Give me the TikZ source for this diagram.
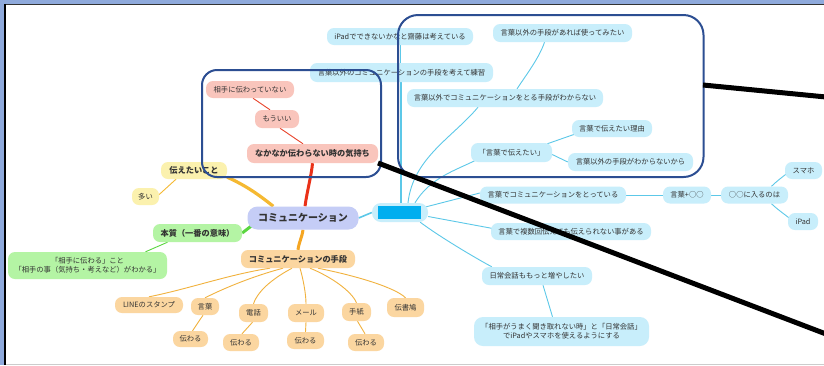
\documentclass[tikz,border=0pt]{standalone}
\usepackage{fontspec}
\setmainfont{Noto Sans CJK JP}
\usetikzlibrary{calc}
\pgfdeclarelayer{bg}
\pgfdeclarelayer{top}
\pgfsetlayers{bg,main,top}
\definecolor{bfill}{HTML}{C8EEFB}
\definecolor{bline}{HTML}{5CC8E8}
\definecolor{rfill}{HTML}{F9C5BC}
\definecolor{rline}{HTML}{E8442C}
\definecolor{rthick}{HTML}{EA3118}
\definecolor{yfill}{HTML}{FBF1AE}
\definecolor{yline}{HTML}{F5B932}
\definecolor{gfill}{HTML}{B4F4A4}
\definecolor{gline}{HTML}{5AD640}
\definecolor{ofill}{HTML}{FBD6A0}
\definecolor{oline}{HTML}{F1B23E}
\definecolor{othick}{HTML}{F5A623}
\definecolor{cfill}{HTML}{C5CDF6}
\definecolor{navy}{HTML}{2C4E92}
\definecolor{cyanb}{HTML}{00AEEF}
\definecolor{frameb}{HTML}{8FAADC}
\definecolor{txt}{HTML}{333333}
\tikzset{
  nd/.style={rounded corners=7pt, inner sep=0pt, text=txt, align=center,
    font=\fontsize{7.3}{9.2}\selectfont},
  hd/.style={nd, font=\fontsize{8.2}{10}\bfseries\selectfont},
  bnode/.style={nd, fill=bfill},
  rnode/.style={nd, fill=rfill},
  ynode/.style={nd, fill=yfill},
  gnode/.style={nd, fill=gfill},
  onode/.style={nd, fill=ofill},
  thin/.style={line width=0.9pt},
  bl/.style={thin, draw=bline},
  rl/.style={thin, draw=rline},
  yl/.style={thin, draw=yline},
  gl/.style={thin, draw=gline},
  ol/.style={thin, draw=oline},
  overbox/.style={draw=navy, line width=2pt},
  blk/.style={line width=5pt, draw=black},
}
\begin{document}
\begin{tikzpicture}[x=1pt,y=-1pt]
\useasboundingbox (0,0) rectangle (824,365);

% ---------- nodes ----------
\node[hd, fill=cfill, minimum width=111, minimum height=23, rounded corners=10pt,
      font=\fontsize{10}{12}\bfseries\selectfont] (c0) at (303,218) {コミュニケーション};
\node[bnode, minimum width=56, minimum height=19, rounded corners=9pt] (bn) at (400,212.5) {};
\fill[cyanb] ($(bn.north west)+(6,3)$) rectangle ($(bn.south east)+(-7,-3)$);

% red branch
\node[hd, fill=rfill, minimum width=131, minimum height=19] (r0) at (312.5,153.5) {なかなか伝わらない時の気持ち};
\node[rnode, minimum width=44, minimum height=18] (r1) at (277,119) {もういい};
\node[rnode, minimum width=88, minimum height=17] (r2) at (250,89.5) {相手に伝わっていない};

% yellow branch
\node[hd, fill=yfill, minimum width=66, minimum height=17] (y0) at (194,170.5) {伝えたいこと};
\node[ynode, minimum width=27, minimum height=17] (y1) at (145.5,196.5) {多い};

% green branch
\node[hd, fill=gfill, minimum width=89, minimum height=18] (g0) at (197.5,233) {本質（一番の意味）};
\node[gnode, minimum width=159, minimum height=27] (g1) at (87.5,265.5) {「相手に伝わる」こと\\「相手の事（気持ち・考えなど）がわかる」};

% orange branch
\node[hd, fill=ofill, minimum width=114, minimum height=18] (o0) at (298,259) {コミュニケーションの手段};
\node[onode, minimum width=68, minimum height=16] (o1) at (149,305) {LINEのスタンプ};
\node[onode, minimum width=28, minimum height=17] (o2) at (205,306.5) {言葉};
\node[onode, minimum width=29, minimum height=18] (o3) at (253.5,313) {電話};
\node[onode, minimum width=36, minimum height=18] (o4) at (306,313) {メール};
\node[onode, minimum width=29, minimum height=18] (o5) at (356.5,312) {手紙};
\node[onode, minimum width=37, minimum height=19] (o6) at (405.5,307.5) {伝書鳩};
\node[onode, minimum width=35, minimum height=16] (o2a) at (190.5,339) {伝わる};
\node[onode, minimum width=36, minimum height=17] (o3a) at (241,342.5) {伝わる};
\node[onode, minimum width=37, minimum height=17] (o4a) at (305.5,340.5) {伝わる};
\node[onode, minimum width=36, minimum height=17] (o5a) at (366,342.5) {伝わる};

% blue branch
\node[bnode, minimum width=146, minimum height=17] (b1) at (400,36.5) {iPadでできないかなと齋藤は考えている};
\node[bnode, minimum width=183, minimum height=19] (b2) at (401.5,72.5) {言葉以外のコミュニケーションの手段を考えて練習};
\node[bnode, minimum width=196, minimum height=18] (b3) at (505,98) {言葉以外でコミュニケーションをとる手段がわからない};
\node[bnode, minimum width=139, minimum height=18] (b4) at (562.5,33) {言葉以外の手段があれば使ってみたい};
\node[bnode, minimum width=81, minimum height=19] (b5) at (511.5,152.5) {「言葉で伝えたい」};
\node[bnode, minimum width=80, minimum height=17] (b6) at (612,128.5) {言葉で伝えたい理由};
\node[bnode, minimum width=125, minimum height=18] (b7) at (630.5,162) {言葉以外の手段がわからないから};
\node[bnode, minimum width=146, minimum height=17] (b8) at (553,195) {言葉でコミュニケーションをとっている};
\node[bnode, minimum width=48, minimum height=17] (b9) at (687,195) {言葉+○○};
\node[bnode, minimum width=67, minimum height=17] (b10) at (754.5,195) {○○に入るのは};
\node[bnode, minimum width=37, minimum height=17] (b11) at (803.5,170.5) {スマホ};
\node[bnode, minimum width=30, minimum height=17] (b12) at (803,221.5) {iPad};
\node[bnode, minimum width=160, minimum height=17] (b13) at (571,231.5) {言葉で複数回伝えても伝えられない事がある};
\node[bnode, minimum width=110, minimum height=18] (b14) at (537,276) {日常会話ももっと増やしたい};
\node[bnode, minimum width=175, minimum height=29, rounded corners=9pt] (b15) at (561.5,331.5) {「相手がうまく聞き取れない時」と「日常会話」\\でiPadやスマホを使えるようにする};

% ---------- connectors (under the nodes) ----------
\begin{pgfonlayer}{bg}
\fill[white] (0,0) rectangle (824,365);
% frame
\fill[frameb] (0,0) rectangle (824,3.5);
\fill[frameb] (0,0) rectangle (4,365);
\draw[txt, line width=1.5pt] (4,4.3) -- (824,4.3);
\draw[black, line width=2pt] (5,4) -- (5,365);
\draw[black!20, line width=1pt] (6,364) -- (824,364);

% thick main branches
\draw[rthick, line width=3pt] ($(c0.north)+(2,0)$) .. controls +(2,-15) and +(-1,12) .. (r0.south);
\draw[yline, line width=3.2pt] ($(c0.north west)+(26,0)$) .. controls +(-15,-12) and +(18,8) .. ($(y0.south east)+(0,-2)$);
\draw[gline, line width=3pt] ($(c0.west)+(4,8)$) -- (g0.east);
\draw[othick, line width=3pt] (c0.south) .. controls +(-1,8) and +(1,-8) .. (o0.north);
\draw[bline, line width=1.6pt] (c0.east) -- (bn.west);

% red thin
\draw[rl] ($(r0.north)+(-9.5,0)$) -- ($(r1.south)+(3,0)$);
\draw[rl] ($(r1.north)+(-7,0)$) -- ($(r2.south)+(3,0)$);
% yellow thin
\draw[yl] ($(y0.south)+(-18,0)$) -- ($(y1.east)+(0,-2)$);
% green thin
\draw[gl] ($(g0.south)+(-30,0)$) -- ($(g1.north)+(58,0)$);
% orange thin
\draw[ol] ($(o0.south)+(-28,0)$) .. controls +(-40,6) and +(40,-8) .. (o1.north);
\draw[ol] ($(o0.south)+(-15,0)$) .. controls +(-30,8) and +(20,-10) .. (o2.north);
\draw[ol] ($(o0.south)+(-6,0)$) .. controls +(-15,8) and +(5,-15) .. (o3.north);
\draw[ol] ($(o0.south)+(2,0)$) .. controls +(3,10) and +(0,-10) .. (o4.north);
\draw[ol] ($(o0.south)+(12,0)$) .. controls +(20,8) and +(-5,-12) .. (o5.north);
\draw[ol] ($(o0.south)+(20,0)$) .. controls +(40,8) and +(-10,-10) .. (o6.north);
\draw[ol] ($(o2.south)+(-2,0)$) -- ($(o2a.north)+(2,0)$);
\draw[ol] ($(o3.south)+(-1,0)$) -- ($(o3a.north)+(1,0)$);
\draw[ol] (o4.south) -- (o4a.north);
\draw[ol] ($(o5.south)+(1,0)$) -- ($(o5a.north)+(-1,0)$);
% blue thin
\draw[bl] (bn.north) -- (b1.south);
\draw[bl] ($(bn.north)+(1,0)$) -- ($(b2.south)+(-0.5,0)$);
\draw[bl] ($(bn.north)+(8,0)$) .. controls +(5,-45) and +(-25,30) .. ($(b3.south)+(-27,0)$);
\draw[bl] ($(b3.north)+(12,0)$) .. controls +(10,-15) and +(-5,15) .. ($(b4.south)+(-18,0)$);
\draw[bl] ($(bn.north)+(15,0)$) .. controls +(15,-25) and +(-20,10) .. ($(b5.south west)+(5,-2)$);
\draw[bl] ($(b5.north east)+(-5,1)$) -- ($(b6.west)+(2,6)$);
\draw[bl] ($(b5.east)+(0,2)$) -- (b7.west);
\draw[bl] ($(bn.north east)+(-2,4)$) -- ($(b8.west)+(0,-2)$);
\draw[bl] (b8.east) -- (b9.west);
\draw[bl] (b9.east) -- (b10.west);
\draw[bl] ($(b10.north)+(17,0)$) .. controls +(5,-5) and +(-5,4) .. ($(b11.west)+(2,3)$);
\draw[bl] ($(b10.south)+(17,0)$) .. controls +(5,5) and +(-5,-4) .. ($(b12.west)+(2,-3)$);
\draw[bl] ($(bn.east)+(0,4)$) -- ($(b13.west)+(2,-3)$);
\draw[bl] ($(bn.south east)+(-8,0)$) .. controls +(20,15) and +(-15,-8) .. ($(b14.north west)+(10,0)$);
\draw[bl] ($(b14.south)+(6,0)$) -- ($(b15.north)+(-9,0)$);
\end{pgfonlayer}

% ---------- overlays ----------
\begin{pgfonlayer}{top}
\draw[overbox, rounded corners=15pt] (202,70) rectangle (381,177);
\draw[overbox, rounded corners=20pt] (398,15) rectangle (703.5,177);
\coordinate (k1) at (378,163);
\coordinate (k1e) at (826,334);
\coordinate (k2) at (703,85);
\coordinate (k2e) at (826,97);
\draw[blk] (k1) -- (k1e);
\draw[blk] (k2) -- (k2e);
\end{pgfonlayer}
\end{tikzpicture}
\end{document}
